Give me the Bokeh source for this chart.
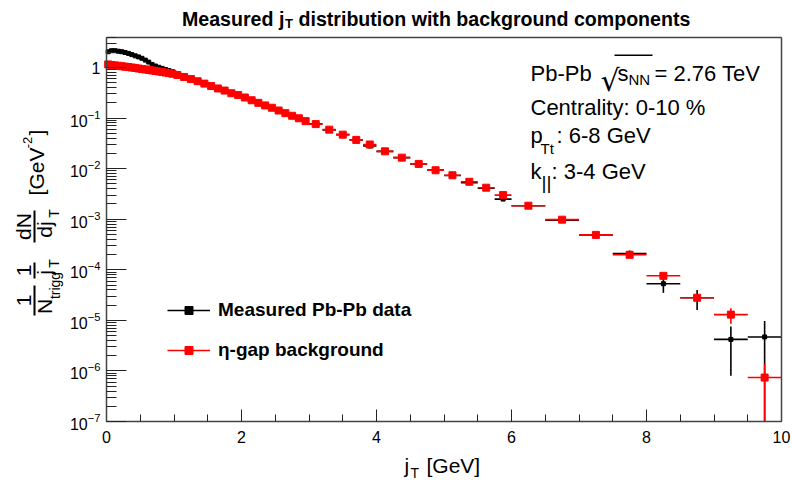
import math
from bokeh.plotting import figure
from bokeh.models import (Label, Legend, LegendItem, ColumnDataSource, FixedTicker,
                          SingleIntervalTicker, BoxAnnotation, LinearAxis, LogAxis)
from bokeh.embed import file_html
from bokeh.resources import INLINE

# ---------------- data ----------------
bin_edges = [0.0, 0.05, 0.1, 0.15, 0.2, 0.25, 0.3, 0.35, 0.4, 0.45, 0.5, 0.55, 0.6, 0.65, 0.7,
             0.75, 0.8, 0.85, 0.9, 0.95, 1.0, 1.1, 1.2, 1.3, 1.4, 1.5, 1.6, 1.7, 1.8, 1.9, 2.0,
             2.1, 2.2, 2.3, 2.4, 2.5, 2.6, 2.7, 2.8, 2.9, 3.0, 3.2, 3.4, 3.6, 3.8, 4.0, 4.25,
             4.5, 4.75, 5.0, 5.25, 5.5, 5.75, 6.0, 6.5, 7.0, 7.5, 8.0, 8.5, 9.0, 9.5, 10.0]

measured = [2.05, 2.15, 2.15, 2.1, 2.05, 1.98, 1.9, 1.8, 1.7, 1.62, 1.52, 1.4, 1.28, 1.15, 1.07,
            1.01, 0.96, 0.91, 0.87, 0.83,
            0.75, 0.68, 0.61, 0.55, 0.49, 0.44, 0.395, 0.355, 0.318, 0.29, 0.258, 0.23, 0.203,
            0.181, 0.161, 0.143, 0.126, 0.112, 0.1, 0.087,
            0.077, 0.058, 0.047, 0.037, 0.028,
            0.022, 0.0165, 0.0124, 0.0094, 0.0073, 0.0053, 0.0041, 0.0025,
            0.00185, 0.00096, 0.00049, 0.00021, 5.3e-5, 2.8e-5, 4.2e-6, 4.7e-6]
measured_err = [0.03, 0.025, 0.02, 0.02, 0.02, 0.02, 0.02, 0.02, 0.02, 0.02, 0.02, 0.02, 0.02,
                0.02, 0.015, 0.015, 0.015, 0.015, 0.015, 0.015,
                0.01, 0.01, 0.01, 0.01, 0.008, 0.008, 0.008, 0.007, 0.007, 0.006, 0.006, 0.006,
                0.005, 0.005, 0.005, 0.004, 0.004, 0.004, 0.003, 0.003,
                0.002, 0.002, 0.0015, 0.0012, 0.001,
                0.0007, 0.0006, 0.0005, 0.0004, 0.00035, 0.0003, 0.00025, 0.0002,
                0.00012, 8e-5, 5e-5, 3e-5, 1.8e-5, 1.2e-5, 3.4e-6, 5e-6]

background = [1.15, 1.12, 1.10, 1.08, 1.06, 1.04, 1.02, 1.0, 0.98, 0.955, 0.935, 0.915, 0.895,
              0.875, 0.855, 0.835, 0.815, 0.795, 0.775, 0.755,
              0.71, 0.65, 0.59, 0.535, 0.48, 0.43, 0.385, 0.35, 0.31, 0.285, 0.255, 0.225, 0.2,
              0.178, 0.16, 0.141, 0.125, 0.111, 0.099, 0.087,
              0.076, 0.059, 0.047, 0.037, 0.030,
              0.022, 0.0165, 0.0124, 0.0093, 0.0074, 0.0055, 0.0042, 0.0030,
              0.00185, 0.00098, 0.00049, 0.000198, 7.6e-5, 2.8e-5, 1.3e-5, 7.4e-7]
background_err = [0.005, 0.005, 0.005, 0.005, 0.005, 0.005, 0.005, 0.005, 0.005, 0.005, 0.005,
                  0.005, 0.005, 0.005, 0.004, 0.004, 0.004, 0.004, 0.004, 0.004,
                  0.003, 0.003, 0.003, 0.003, 0.003, 0.003, 0.002, 0.002, 0.002, 0.002, 0.002,
                  0.002, 0.0015, 0.0015, 0.0015, 0.0012, 0.0012, 0.001, 0.001, 0.001,
                  0.0006, 0.0005, 0.0004, 0.0003, 0.0003,
                  0.0002, 0.00015, 0.00012, 0.0001, 8e-5, 7e-5, 6e-5, 5e-5,
                  4e-5, 2.5e-5, 1.5e-5, 1e-5, 1e-5, 4e-6, 4.4e-6, 6.5e-7]

x_axis_range = (0.0, 10.0)
y_axis_range = (1e-7, 4.0)
x_tick_interval = 2
y_decades = [-7, -6, -5, -4, -3, -2, -1, 0]

# ---------------- layout (canvas pixels) ----------------
W, H = 792, 484
PX_X0, PX_X1 = 106, 781          # canvas x of jT = 0 and jT = 10
PX_YLO, PX_Y1 = 421, 67          # canvas y of 1e-7 and of 1
ppu = (PX_X1 - PX_X0) / (x_axis_range[1] - x_axis_range[0])
ppd = (PX_YLO - PX_Y1) / 7.0
xr = (x_axis_range[0] - PX_X0 / ppu, x_axis_range[1] + (W - PX_X1) / ppu)
ylo_log = math.log10(y_axis_range[0])
yr = (10 ** (ylo_log - (H - PX_YLO) / ppd), 10 ** (ylo_log + PX_YLO / ppd))

p = figure(width=W, height=H, y_axis_type="log", x_range=xr, y_range=yr, title=None,
           x_axis_location=None, y_axis_location=None,
           output_backend="svg", toolbar_location=None,
           min_border_left=0, min_border_right=0, min_border_top=0, min_border_bottom=0)
p.grid.visible = False
p.background_fill_color = "white"
p.border_fill_color = "white"
p.outline_line_color = None

AX_COLOR = "#444444"

xaxis = LinearAxis(fixed_location=y_axis_range[0], bounds=x_axis_range,
                   ticker=SingleIntervalTicker(interval=x_tick_interval, num_minor_ticks=4))
y_major = [10.0 ** d for d in y_decades]
y_minor = [m * 10.0 ** d for d in y_decades for m in range(2, 10)
           if m * 10.0 ** d <= y_axis_range[1]]
yaxis = LogAxis(fixed_location=x_axis_range[0], bounds=y_axis_range,
                ticker=FixedTicker(ticks=y_major, minor_ticks=y_minor))
for ax in (xaxis, yaxis):
    ax.axis_line_color = AX_COLOR
    ax.axis_line_width = 1.5
    ax.major_tick_line_color = "#222222"
    ax.minor_tick_line_color = "#222222"
    ax.major_tick_out = 0
    ax.minor_tick_out = 0
    ax.major_label_text_font = "Liberation Sans"
    ax.major_label_text_font_size = "16px"
    ax.major_label_text_color = "black"
xaxis.major_tick_in = 12
xaxis.minor_tick_in = 7
xaxis.major_label_standoff = 9
yaxis.major_tick_in = 20
yaxis.minor_tick_in = 10
yaxis.major_label_standoff = 6
yaxis.major_label_overrides = {1: "1"}
p.add_layout(xaxis, "below")
p.add_layout(yaxis, "left")

# frame box: top and right sides as bare axes
for ax, place in ((LinearAxis(fixed_location=y_axis_range[1], bounds=x_axis_range), "above"),
                  (LinearAxis(fixed_location=x_axis_range[1], bounds=y_axis_range), "right")):
    ax.ticker = FixedTicker(ticks=[])
    ax.axis_line_color = AX_COLOR
    ax.axis_line_width = 1.5
    ax.major_label_text_alpha = 0
    p.add_layout(ax, place)


def series_source(vals, errs):
    xc, hw, lo, hi = [], [], [], []
    for i, (v, e) in enumerate(zip(vals, errs)):
        a, b = bin_edges[i], bin_edges[i + 1]
        xc.append((a + b) / 2)
        hw.append((b - a) / 2)
        lo.append(max(v - e, y_axis_range[0]))
        hi.append(v + e)
    return ColumnDataSource(dict(x=xc, x0=[c - h for c, h in zip(xc, hw)],
                                 x1=[c + h for c, h in zip(xc, hw)],
                                 y=vals, lo=lo, hi=hi))


src_m = series_source(measured, measured_err)
src_b = series_source(background, background_err)

lw = 1.6
rm_x = p.segment("x0", "y", "x1", "y", source=src_m, line_color="black", line_width=lw)
rm_y = p.segment("x", "lo", "x", "hi", source=src_m, line_color="black", line_width=lw)
rm_s = p.scatter("x", "y", source=src_m, marker="square", size=4, fill_color="black",
                 line_color="black")
rb_x = p.segment("x0", "y", "x1", "y", source=src_b, line_color="#ff0000", line_width=lw)
rb_y = p.segment("x", "lo", "x", "hi", source=src_b, line_color="#ff0000", line_width=lw)
rb_s = p.scatter("x", "y", source=src_b, marker="square", size=7, fill_color="#ff0000",
                 line_color="#ff0000")

legend = Legend(items=[LegendItem(label="Measured Pb-Pb data", renderers=[rm_x, rm_s]),
                       LegendItem(label="η-gap background", renderers=[rb_x, rb_s])],
                location=(167, H - 361))
legend.border_line_alpha = 0
legend.background_fill_alpha = 0
legend.label_text_font = "Liberation Sans"
legend.label_text_font_style = "bold"
legend.label_text_font_size = "19px"
legend.label_text_color = "black"
legend.glyph_width = 43
legend.glyph_height = 20
legend.label_height = 20
legend.label_standoff = 8
legend.spacing = 18
legend.padding = 0
legend.margin = 0
p.add_layout(legend)


# ---------------- texts (canvas pixel positions) ----------------
def lab(text, cx, cy, size, bold=False, align="left", baseline="alphabetic", angle=0.0,
        font="Liberation Sans"):
    p.add_layout(Label(x=cx, y=H - cy, x_units="screen", y_units="screen", text=text,
                       text_font=font, text_font_size=f"{size}px",
                       text_font_style="bold" if bold else "normal", text_align=align,
                       text_baseline=baseline, angle=angle, text_color="black"))


def bar(cx0, cx1, cy0, cy1):
    p.add_layout(BoxAnnotation(left=cx0, right=cx1, top=H - cy0, bottom=H - cy1,
                               left_units="screen", right_units="screen",
                               top_units="screen", bottom_units="screen",
                               fill_color="black", fill_alpha=1.0, line_alpha=0))


# title
lab("Measured j", 181.5, 18, 19.6, bold=True)
lab("T", 284.5, 23, 13, bold=True)
lab("distribution with background components", 298, 18, 19.6, bold=True)

# x-axis title
lab("j", 404, 465, 21)
lab("T", 410, 472, 14)
lab("[GeV]", 426, 465, 21)

# y-axis title (rotated)
R = math.pi / 2
lab("1", 23, 300, 21, align="center", baseline="middle", angle=R)
bar(33, 35, 285, 315)
lab("N", 44, 306, 21, align="center", baseline="middle", angle=R)
lab("trigg", 54, 285, 14, align="center", baseline="middle", angle=R)
lab("1", 23, 270, 21, align="center", baseline="middle", angle=R)
bar(33, 35, 262, 278)
lab("j", 44, 272, 21, align="center", baseline="middle", angle=R)
lab("T", 53, 263, 14, align="center", baseline="middle", angle=R)
lab("dN", 23, 226, 21, align="center", baseline="middle", angle=R)
bar(33, 35, 210, 242)
lab("dj", 44, 229, 21, align="center", baseline="middle", angle=R)
lab("T", 53, 213, 14, align="center", baseline="middle", angle=R)
lab("[GeV", 36, 171, 21, align="center", baseline="middle", angle=R)
lab("-2", 27, 142, 13, align="center", baseline="middle", angle=R)
lab("]", 36, 132, 21, align="center", baseline="middle", angle=R)

# info block
lab("Pb-Pb", 530, 73, 22)
lab("√", 600, 80, 30, font="DejaVu Sans")
bar(614, 652, 54, 55.5)
lab("s", 617, 73, 22)
lab("NN", 628, 79, 15)
lab("= 2.76 TeV", 654, 73, 22)
lab("Centrality: 0-10 %", 530, 107, 22)
lab("p", 530, 135, 22)
lab("Tt", 540, 148, 15)
lab(": 6-8 GeV", 556, 135, 22)
lab("k", 530, 171, 22)
lab("||", 541, 182, 19)
lab(": 3-4 GeV", 551, 171, 22)

open("out.html", "w").write(file_html(p, INLINE))
